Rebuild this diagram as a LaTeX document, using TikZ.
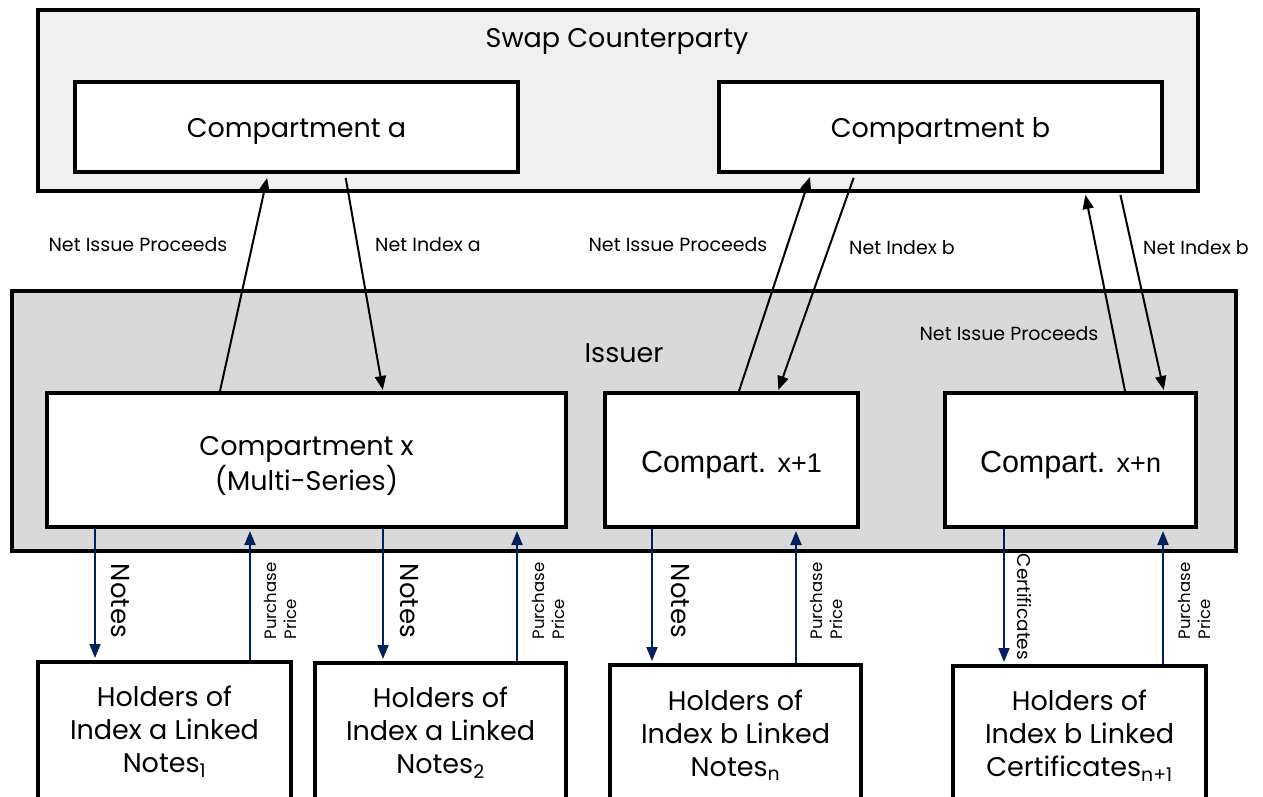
\documentclass[tikz,border=0pt]{standalone}
\usepackage{fontspec}
\setmainfont{Poppins}
\newfontfamily\arialfont{Liberation Sans}
\usetikzlibrary{arrows.meta}
\definecolor{navy}{RGB}{0,32,96}
\definecolor{swapgray}{RGB}{240,240,240}
\definecolor{issuergray}{RGB}{217,217,217}
\newcommand{\bigtxt}{\fontsize{27}{33}\selectfont}
\newcommand{\smalltxt}{\fontsize{19}{22}\selectfont}
\newcommand{\comparttxt}[1]{{\arialfont\fontsize{30.5}{36}\selectfont Compart. {\fontsize{27}{32}\selectfont #1}}}
\newcommand{\shifttxt}[2]{\raisebox{#1}[\height][\depth]{#2}}
\tikzset{
  panel/.style={draw, line width=4pt, inner sep=0pt},
  box/.style 2 args={draw, line width=4pt, fill=white, minimum width=#1, minimum height=#2, inner sep=0pt, align=center, font=\bigtxt},
  flow/.style={line width=2pt, -{Triangle[length=14pt,width=11pt]}},
  buy/.style={flow, draw=navy, fill=navy},
  lbl/.style={font=\smalltxt},
  noteslbl/.style={font=\fontsize{26}{30}\selectfont},
  pricelbl/.style={font=\fontsize{16.5}{20}\selectfont, align=left},
  certlbl/.style={font=\fontsize{18.5}{22}\selectfont}
}
\begin{document}
\begin{tikzpicture}[x=1pt,y=-1pt]
            \useasboundingbox (0,0) rectangle (1263,796);
            %panels
            \node[panel, fill=swapgray, minimum width=1160pt, minimum height=181pt] (swap) at (618,100.5) {};
            \node[font=\bigtxt] (swaptitle) at (617,41) {Swap Counterparty};
            \node[panel, fill=issuergray, minimum width=1224pt, minimum height=260pt] (issuer) at (624,421) {};
            \node[font=\bigtxt] (issuertitle) at (624,353) {Issuer};

            %compartments
            \node[box={443pt}{90pt}] (cmpa) at (296.5,127) {\shifttxt{-4.5pt}{Compartment a}};
            \node[box={443pt}{90pt}] (cmpb) at (940.5,127) {\shifttxt{-4.5pt}{Compartment b}};
            \node[box={519pt}{134pt}] (cmpx) at (306.5,460) {\shifttxt{-6pt}{\begin{tabular}{@{}c@{}}Compartment x\\(Multi-Series)\end{tabular}}};
            \node[box={253pt}{134pt}] (cmpx1) at (731.5,460) {\shifttxt{-5pt}{\comparttxt{x+1}}};
            \node[box={251pt}{134pt}] (cmpxn) at (1070.5,460) {\shifttxt{-5pt}{\comparttxt{x+n}}};

            %holders
            \node[box={253pt}{140pt}] (h1) at (164.5,732) {Holders of\\Index a Linked\\Notes\textsubscript{1}};
            \node[box={251pt}{140pt}] (h2) at (440.5,733) {Holders of\\Index a Linked\\Notes\textsubscript{2}};
            \node[box={251pt}{140pt}] (h3) at (735.5,735) {Holders of\\Index b Linked\\Notes\textsubscript{n}};
            \node[box={253pt}{140pt}] (h4) at (1079.5,736) {Holders of\\Index b Linked\\Certificates\textsubscript{n+1}};

            %swap flows
            \draw[flow, shorten >=4pt] ([xshift=-86.5pt]cmpx.north) -- ([xshift=-28.5pt]cmpa.south);
            \draw[flow, shorten <=4pt, shorten >=1pt] ([xshift=48.5pt]cmpa.south) -- ([xshift=76.5pt]cmpx.north);
            \draw[flow, shorten >=3pt] ([xshift=7.5pt]cmpx1.north) -- ([xshift=-129.5pt]cmpb.south);
            \draw[flow, shorten <=4pt, shorten >=1pt] ([xshift=-85.5pt]cmpb.south) -- ([xshift=46.5pt]cmpx1.north);
            \draw[flow, shorten >=2pt] ([xshift=54.5pt]cmpxn.north) -- ([xshift=467pt]swap.south);
            \draw[flow, shorten <=2pt, shorten >=1pt] ([xshift=502pt]swap.south) -- ([xshift=93.5pt]cmpxn.north);
            \node[lbl] (nipa) at (138,245) {Net Issue Proceeds};
            \node[lbl] (nia) at (428,245) {Net Index a};
            \node[lbl] (nipb) at (678,245) {Net Issue Proceeds};
            \node[lbl] (nib) at (902,248) {Net Index b};
            \node[lbl] (nibn) at (1196,248) {Net Index b};
            \node[lbl] (nipn) at (1009,334) {Net Issue Proceeds};

            %holder flows
            \draw[buy, shorten >=2pt] ([xshift=-211.5pt]cmpx.south) -- ([xshift=-69.5pt]h1.north);
            \draw[buy, shorten >=2pt] ([xshift=85.5pt]h1.north) -- ([xshift=-56.5pt]cmpx.south);
            \draw[buy, shorten >=2pt] ([xshift=76.5pt]cmpx.south) -- ([xshift=-57.5pt]h2.north);
            \draw[buy, shorten >=2pt] ([xshift=76.5pt]h2.north) -- ([xshift=210.5pt]cmpx.south);
            \draw[buy, shorten >=2pt] ([xshift=-79.5pt]cmpx1.south) -- ([xshift=-83.5pt]h3.north);
            \draw[buy, shorten >=2pt] ([xshift=60.5pt]h3.north) -- ([xshift=64.5pt]cmpx1.south);
            \draw[buy, shorten >=2pt] ([xshift=-66.5pt]cmpxn.south) -- ([xshift=-75.5pt]h4.north);
            \draw[buy, shorten >=2pt] ([xshift=83.5pt]h4.north) -- ([xshift=92.5pt]cmpxn.south);
            \node[noteslbl, rotate=-90] (notes1) at (120,601) {Notes};
            \node[pricelbl, rotate=90] (price1) at (280,601) {Purchase\\Price};
            \node[noteslbl, rotate=-90] (notes2) at (409,601) {Notes};
            \node[pricelbl, rotate=90] (price2) at (548,601) {Purchase\\Price};
            \node[noteslbl, rotate=-90] (notes3) at (680,601) {Notes};
            \node[pricelbl, rotate=90] (price3) at (826,601) {Purchase\\Price};
            \node[certlbl, rotate=-90] (certs) at (1024,607) {Certificates};
            \node[pricelbl, rotate=90] (price4) at (1194,601) {Purchase\\Price};
        \end{tikzpicture}
\end{document}
